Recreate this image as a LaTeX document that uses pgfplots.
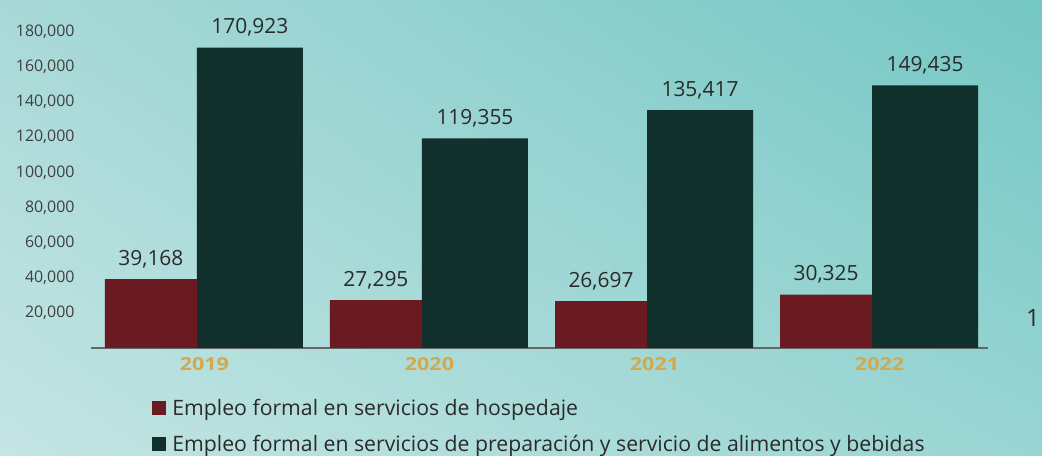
\documentclass[border=0pt]{standalone}
\usepackage{pgfplots}
\pgfplotsset{compat=1.18}
\usetikzlibrary{shadings}
\usepackage{fontspec}
\setmainfont{Open Sans}
\newfontfamily\yearfont{Open Sans}[FakeStretch=1.2]
\definecolor{hosp}{HTML}{6A1A21}
\definecolor{alim}{HTML}{12302B}
\definecolor{gold}{HTML}{D4A84C}
\definecolor{txt}{HTML}{2A2A2A}
\definecolor{bgUL}{HTML}{A8D9D8}
\definecolor{bgUR}{HTML}{74C7C4}
\definecolor{bgLL}{HTML}{C4E5E3}
\definecolor{bgLR}{HTML}{98D5D2}
\begin{document}
\begin{tikzpicture}
\useasboundingbox (0,0) rectangle (1042bp,456bp);
\shade[upper left=bgUL, upper right=bgUR, lower left=bgLL, lower right=bgLR] (0,0) rectangle (1042bp,456bp);
\begin{axis}[
  at={(91bp,108bp)}, anchor=south west,
  scale only axis, width=897bp, height=328bp,
  xmin=-0.504, xmax=3.482, ymin=0, ymax=186700,
  axis lines=left,
  y axis line style={draw=none},
  x axis line style={draw=gray!80!black, line width=1.5bp, -},
  major tick length=0,
  xtick={0,1,2,3}, xticklabels={2019,2020,2021,2022},
  xticklabel style={anchor=base, yshift=-22bp, font=\fontsize{18}{20}\selectfont\yearfont\bfseries, text=gold},
  ytick={20000,40000,60000,80000,100000,120000,140000,160000,180000},
  yticklabels={{20,000},{40,000},{60,000},{80,000},{100,000},{120,000},{140,000},{160,000},{180,000}},
  scaled y ticks=false,
  yticklabel style={anchor=east, xshift=-13bp, font=\fontsize{16}{18}\selectfont, text=txt!90},
  nodes near coords, point meta=explicit symbolic,
  every node near coord/.append style={anchor=base, yshift=14bp, font=\fontsize{21}{24}\selectfont, text=txt},
  legend style={at={(0.0677,-0.155)}, anchor=north west, draw=none, fill=none,
     font=\fontsize{21.3}{24}\selectfont, text=txt, row sep=18bp, column sep=6.5bp,
     inner sep=0pt, nodes={inner sep=0pt}},
  legend cell align=left,
  reverse legend,
  legend image code/.code={\fill[#1] (0bp,-7bp) rectangle (14bp,7bp);},
]
\addplot[ybar, bar width=106bp, bar shift=45.5bp, fill=alim, draw=none,
  every node near coord/.append style={xshift=45.5bp}]
  coordinates {(0,170923) [{170,923}] (1,119355) [{119,355}] (2,135417) [{135,417}] (3,149435) [{149,435}]};
\addplot[ybar, bar width=92bp, bar shift=-53.5bp, fill=hosp, draw=none,
  every node near coord/.append style={xshift=-53.5bp}]
  coordinates {(0,39168) [{39,168}] (1,27295) [{27,295}] (2,26697) [{26,697}] (3,30325) [{30,325}]};
\legend{Empleo formal en servicios de preparación y servicio de alimentos y bebidas, Empleo formal en servicios de hospedaje}
\end{axis}
\node[anchor=base, font=\fontsize{24}{28}\selectfont, text=txt, inner sep=0] at (1033bp,129bp) {1};
\end{tikzpicture}
\end{document}
